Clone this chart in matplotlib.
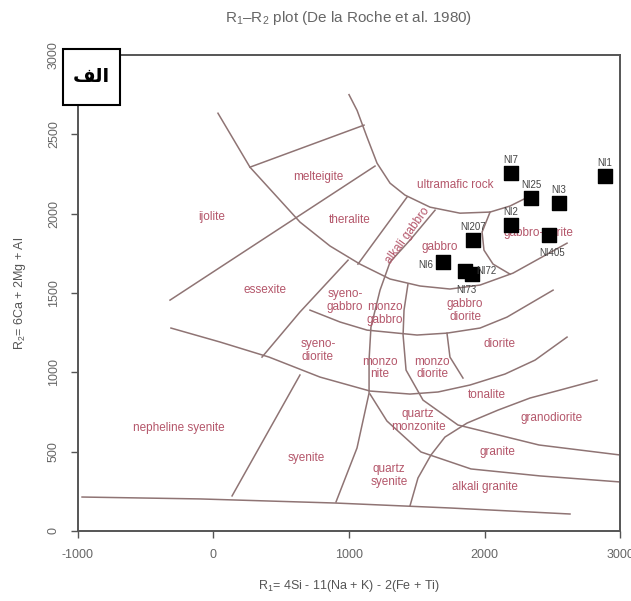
import matplotlib
matplotlib.use("Agg")
import matplotlib.pyplot as plt
from matplotlib.patches import Rectangle

plt.rcParams['font.family'] = ['Liberation Sans', 'DejaVu Sans']
plt.rcParams['mathtext.fontset'] = 'custom'
plt.rcParams['mathtext.rm'] = 'Liberation Sans'
plt.rcParams['mathtext.it'] = 'Liberation Sans'

# samples (R1, R2)
sample_names = ["NI7", "NI1", "NI25", "NI3", "NI2", "NI207", "NI405", "NI6", "NI72", "NI73"]
sample_r1 = [2196, 2889, 2343, 2550, 2196, 1915, 2476, 1694, 1856, 1908]
sample_r2 = [2255, 2237, 2098, 2066, 1928, 1833, 1865, 1695, 1638, 1619]

# field boundaries of the De la Roche template, (R1 list, R2 list)
boundaries = {
    "outer_arc": ([33, 269, 491, 638, 860, 1081, 1303, 1524, 1745, 1967, 2210, 2609],
                  [2633, 2293, 2085, 1947, 1796, 1682, 1588, 1544, 1525, 1550, 1625, 1814]),
    "ultramafic": ([1000, 1060, 1133, 1207, 1303, 1413, 1598, 1819, 2041, 2188, 2336],
                   [2750, 2650, 2482, 2318, 2192, 2117, 2041, 2003, 2010, 2048, 2111]),
    "melteigite_top": ([269, 1111], [2293, 2558]),
    "ijolite_essexite": ([-321, 1192], [1455, 2300]),
    "alkgab_left": ([1428, 1066], [2104, 1682]),
    "alkgab_right": ([1635, 1450, 1303, 1229, 1162, 1148, 1148, 1059, 904],
                     [2022, 1833, 1695, 1518, 1285, 1077, 869, 523, 183]),
    "monzo_line": ([1435, 1406, 1399, 1421, 1546, 1804, 2402, 3000],
                   [1556, 1392, 1235, 1014, 825, 668, 542, 479]),
    "granite_line": ([1155, 1280, 1531, 1900, 2410, 3000],
                     [863, 693, 498, 391, 347, 309]),
    "tonalite_line": ([2830, 2557, 2336, 2100, 1871, 1708, 1605, 1509, 1450],
                      [951, 888, 838, 762, 680, 592, 479, 334, 158]),
    "syenodiorite_arc": ([-314, 48, 410, 786, 1155, 1450, 1657, 1893, 2151, 2373, 2609],
                         [1279, 1191, 1096, 970, 882, 863, 876, 920, 989, 1077, 1222]),
    "gabbro_arc": ([712, 934, 1133, 1502, 1723, 1967, 2166, 2506],
                   [1392, 1317, 1266, 1235, 1247, 1279, 1348, 1518]),
    "essexite_right": ([993, 638, 358], [1707, 1380, 1096]),
    "nepheline_right": ([638, 137], [983, 221]),
    "monzodiorite_right": ([1723, 1745, 1841], [1247, 1096, 964]),
    "norite_left": ([2041, 1982, 1996, 2063, 2188], [2010, 1884, 1770, 1682, 1619]),
    "bottom": ([-970, -100, 904, 1745, 2631], [214, 202, 176, 145, 107]),
}

field_names = ["ijolite", "melteigite", "theralite", "essexite", "ultramafic rock",
               "gabbro", "gabbro-norite", "syeno-\ngabbro", "monzo\ngabbro",
               "gabbro\ndiorite", "syeno-\ndiorite", "monzo\nnite", "monzo\ndiorite",
               "diorite", "tonalite", "granodiorite", "quartz\nmonzonite", "granite",
               "alkali granite", "quartz\nsyenite", "syenite", "nepheline syenite"]
field_r1 = [-11, 771, 1007, 380, 1782, 1672, 2395, 970, 1266, 1856, 771, 1229, 1613,
            2114, 2018, 2498, 1509, 2092, 2004, 1295, 683, -255]
field_r2 = [1978, 2230, 1959, 1518, 2180, 1790, 1877, 1455, 1373, 1392, 1140, 1027, 1027,
            1178, 857, 712, 699, 498, 277, 347, 460, 649]

line_col = "#8f7474"
label_col = "#b4566a"
axis_col = "#555555"

# where each sample name sits relative to its square (points)
label_pos = {
    "NI405": ((2, -9), "center", "top"),
    "NI6": ((-7, -2), "right", "center"),
    "NI72": ((8, 0), "left", "center"),
    "NI73": ((-4, -8), "center", "top"),
}

fig = plt.figure(figsize=(6.31, 6.01), dpi=100)
ax = fig.add_axes([0.1236, 0.1165, 0.859, 0.792])

for key, (bx, by) in boundaries.items():
    ax.plot(bx, by, color=line_col, lw=1.1, zorder=1)

for name, fx, fy in zip(field_names, field_r1, field_r2):
    ax.text(fx, fy, name, color=label_col, fontsize=8.5, ha="center", va="center",
            linespacing=1.1, zorder=2)
ax.text(1435, 1865, "alkali gabbro", color=label_col, fontsize=8.5, ha="center",
        va="center", rotation=54, zorder=2)

ax.scatter(sample_r1, sample_r2, marker="s", s=110, color="black", zorder=4)
for name, sx, sy in zip(sample_names, sample_r1, sample_r2):
    off, ha, va = label_pos.get(name, ((0, 6), "center", "bottom"))
    ax.annotate(name, (sx, sy), xytext=off, textcoords="offset points",
                fontsize=7, color="#444444", ha=ha, va=va, zorder=5)

ax.set_xlim(-1000, 3000)
ax.set_ylim(0, 3000)
ax.set_xticks([-1000, 0, 1000, 2000, 3000])
ax.set_xticklabels(["-1000", "0", "1000", "2000", "3000"])
ax.set_yticks([0, 500, 1000, 1500, 2000, 2500, 3000])
for s in ax.spines.values():
    s.set_color(axis_col)
    s.set_linewidth(1.4)
ax.tick_params(colors=axis_col, labelcolor="#666666", labelsize=9, length=5, width=1)
ax.tick_params(axis="x", pad=8)
ax.tick_params(axis="y", pad=8)
plt.setp(ax.get_yticklabels(), rotation=90, va="center")

ax.set_title("R$_1$\u2013R$_2$ plot (De la Roche et al. 1980)", color="#666666",
             fontsize=11, pad=24)
ax.set_xlabel("R$_1$= 4Si - 11(Na + K) - 2(Fe + Ti)", color="#555555", fontsize=9,
              labelpad=12)
ax.set_ylabel("R$_2$= 6Ca + 2Mg + Al", color="#555555", fontsize=9, labelpad=14)

# panel tag box
fig.patches.append(Rectangle((0.0998, 0.8253), 0.0903, 0.0932, transform=fig.transFigure,
                             facecolor="white", edgecolor="black", lw=1.5, zorder=10))
fig.text(0.145, 0.872, "\uFED2\uFEDF\u0627", fontsize=14, fontweight="bold",
         family=["DejaVu Sans"], ha="center", va="center", zorder=11)

fig.savefig("out.png", dpi=100)
